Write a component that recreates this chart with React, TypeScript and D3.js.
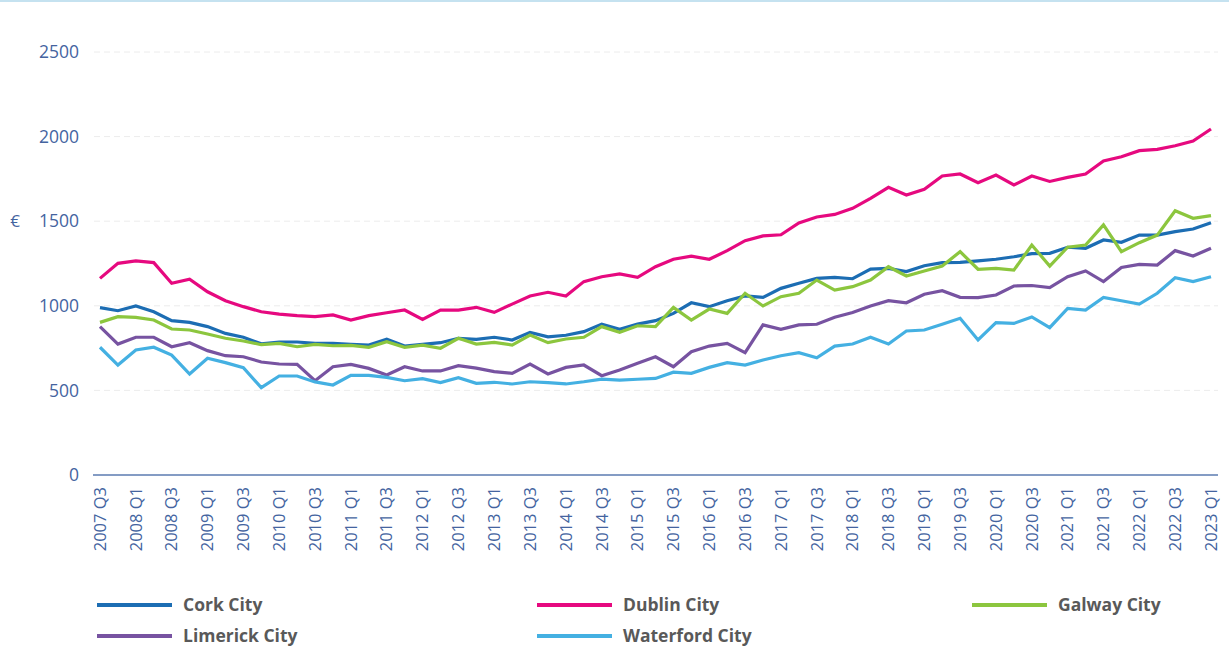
import React from 'react';
import * as d3 from 'd3';

// quarters 2007 Q3 .. 2023 Q1
const quarters: string[] = [];
for (let y = 2007, q = 3; y < 2023 || (y === 2023 && q <= 1); q++) {
  if (q > 4) { q = 1; y++; }
  if (y === 2023 && q > 1) break;
  quarters.push(`${y} Q${q}`);
}

const cork = [989, 971, 999, 965, 912, 902, 877, 837, 814, 775, 786, 786, 778, 778, 772, 768, 802, 762, 772, 782, 808, 802, 814, 798, 843, 817, 826, 847, 892, 861, 892, 912, 955, 1018, 995, 1030, 1058, 1050, 1103, 1133, 1162, 1168, 1160, 1217, 1221, 1202, 1237, 1255, 1257, 1265, 1275, 1290, 1308, 1310, 1346, 1340, 1389, 1375, 1418, 1418, 1438, 1454, 1491];
const dublin = [1162, 1251, 1265, 1255, 1133, 1157, 1083, 1030, 995, 965, 951, 942, 936, 946, 916, 942, 959, 975, 920, 975, 975, 991, 961, 1010, 1058, 1080, 1058, 1143, 1172, 1188, 1168, 1231, 1275, 1294, 1275, 1326, 1385, 1413, 1420, 1490, 1525, 1540, 1576, 1635, 1700, 1655, 1689, 1767, 1779, 1727, 1773, 1714, 1767, 1735, 1759, 1779, 1856, 1881, 1917, 1925, 1946, 1974, 2045];
const galway = [902, 936, 932, 916, 863, 857, 833, 808, 792, 770, 778, 758, 772, 764, 766, 755, 788, 755, 768, 749, 808, 774, 784, 768, 827, 782, 804, 814, 877, 843, 882, 877, 991, 916, 981, 955, 1074, 999, 1054, 1074, 1152, 1093, 1113, 1152, 1231, 1176, 1206, 1235, 1320, 1216, 1221, 1211, 1359, 1235, 1346, 1359, 1478, 1320, 1373, 1418, 1562, 1517, 1533];
const limerick = [877, 774, 814, 814, 758, 782, 735, 705, 699, 668, 656, 654, 557, 640, 654, 630, 591, 640, 615, 615, 646, 632, 611, 601, 656, 597, 636, 650, 587, 621, 660, 699, 640, 729, 762, 778, 723, 887, 861, 887, 891, 932, 960, 999, 1030, 1018, 1068, 1089, 1050, 1048, 1064, 1117, 1120, 1107, 1172, 1206, 1143, 1227, 1245, 1241, 1326, 1294, 1340];
const waterford = [755, 650, 739, 755, 709, 597, 690, 664, 634, 516, 585, 585, 550, 532, 589, 589, 577, 557, 569, 546, 575, 542, 548, 538, 551, 546, 538, 551, 567, 561, 566, 571, 608, 601, 636, 664, 650, 680, 705, 723, 693, 762, 774, 814, 774, 851, 857, 891, 926, 798, 900, 896, 934, 871, 985, 975, 1050, 1030, 1010, 1074, 1166, 1143, 1172];

const yTicks = [0, 500, 1000, 1500, 2000, 2500];

const series = [
  { name: 'Cork City', values: cork, color: '#1c6db3' },
  { name: 'Dublin City', values: dublin, color: '#e6097f' },
  { name: 'Galway City', values: galway, color: '#8cc63e' },
  { name: 'Limerick City', values: limerick, color: '#7753a1' },
  { name: 'Waterford City', values: waterford, color: '#44b0e2' },
];

// legend slots: [column, row]
const legendPos = [[0, 0], [1, 0], [2, 0], [0, 1], [1, 1]];
const legendX = [97, 537, 972];
const legendY = [605, 636];

export default function App() {
  const x = d3.scalePoint<string>().domain(quarters).range([100, 1211]);
  const y = d3.scaleLinear().domain([0, 2500]).range([475, 52]);
  const line = d3.line<number>()
    .x((_, i) => x(quarters[i]) as number)
    .y(d => y(d));

  const font = "'Open Sans', 'Noto Sans', sans-serif";

  return (
    <svg width={1229} height={652} style={{ position: 'fixed', left: 0, top: 0 }} fontFamily={font}>
      <rect width={1229} height={652} fill="#fff" />
      <line x1={0} x2={1229} y1={1} y2={1} stroke="#c5e2f0" strokeWidth={2} />

      {yTicks.map(t => (
        <g key={t}>
          {t > 0 && (
            <line x1={94} x2={1218} y1={y(t)} y2={y(t)} stroke="#ececec" strokeDasharray="6 4" strokeWidth={1} />
          )}
          <text x={79} y={y(t)} dy="0.35em" textAnchor="end" fontSize={17.5} fill="#44649f">{t}</text>
        </g>
      ))}
      <text x={15} y={y(1500)} dy="0.35em" textAnchor="middle" fontSize={17} fill="#44649f">€</text>

      <line x1={93} x2={1218} y1={475} y2={475} stroke="#5b7bb0" strokeWidth={1.5} />

      {quarters.map((q, i) => i % 2 === 0 && (
        <text key={q} transform={`translate(${x(q)},487) rotate(-90)`} dy="0.35em" textAnchor="end"
          fontSize={16.5} fill="#44649f">{q}</text>
      ))}

      {series.map(s => (
        <path key={s.name} d={line(s.values) || ''} fill="none" stroke={s.color} strokeWidth={3.2}
          strokeLinejoin="miter" />
      ))}

      {series.map((s, i) => {
        const [c, r] = legendPos[i];
        const lx = legendX[c];
        const ly = legendY[r];
        return (
          <g key={s.name}>
            <line x1={lx} x2={lx + 75} y1={ly} y2={ly} stroke={s.color} strokeWidth={4} />
            <text x={lx + 86} y={ly} dy="0.35em" fontSize={17.5} fontWeight="bold" fill="#595959">{s.name}</text>
          </g>
        );
      })}
    </svg>
  );
}
